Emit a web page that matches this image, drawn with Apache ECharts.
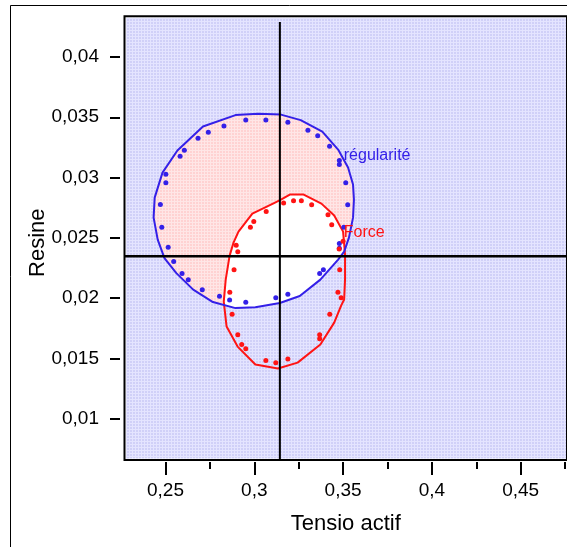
<!DOCTYPE html>
<html><head><meta charset="utf-8">
<script src="https://cdn.jsdelivr.net/npm/echarts@6/dist/echarts.min.js"></script>
<style>html,body{margin:0;padding:0;background:#fff}#c{width:567px;height:547px}</style>
</head><body><div id="c"></div>
<script>
// ---- data ----
const xTicks = [0.25, 0.3, 0.35, 0.4, 0.45];
const xMinorTicks = [0.275, 0.325, 0.375, 0.425, 0.475];
const yTicks = [0.01, 0.015, 0.02, 0.025, 0.03, 0.035, 0.04];
const xRange = [0.2269, 0.4761];
const yRange = [0.00659, 0.043369];
const refX = 0.3144;
const refY = 0.02347;
const refTopY = 0.0429;
const blueCurve = [
  [0.2894,0.03518],[0.3022,0.03530],[0.3150,0.03522],[0.3261,0.03476],[0.3383,0.03381],
  [0.3472,0.03232],[0.3528,0.03083],[0.3556,0.02942],[0.3561,0.02817],[0.3556,0.02668],
  [0.3533,0.02502],[0.3506,0.02386],[0.3472,0.02320],[0.3372,0.02154],[0.3256,0.02018],
  [0.3144,0.01960],[0.3006,0.01926],[0.2894,0.01918],[0.2767,0.01968],[0.2656,0.02071],
  [0.2561,0.02208],[0.2494,0.02333],[0.2456,0.02486],[0.2433,0.02668],[0.2439,0.02834],
  [0.2483,0.03041],[0.2567,0.03224],[0.2711,0.03423]
];
const redCurve = [
  [0.3150,0.02817],[0.3200,0.02859],[0.3278,0.02859],[0.3378,0.02784],[0.3450,0.02685],
  [0.3500,0.02552],[0.3511,0.02362],[0.3511,0.02154],[0.3506,0.01989],[0.3489,0.01939],
  [0.3450,0.01798],[0.3372,0.01616],[0.3244,0.01466],[0.3133,0.01417],[0.3006,0.01450],
  [0.2906,0.01599],[0.2844,0.01765],[0.2828,0.01972],[0.2839,0.02154],[0.2861,0.02353],
  [0.2883,0.02461],[0.2911,0.02552],[0.2989,0.02701],[0.3114,0.02790]
];
const blueDots = [
  [0.2502,0.03027],[0.2502,0.02958],[0.2582,0.03176],[0.2606,0.03226],[0.2683,0.03326],
  [0.2741,0.03375],[0.2829,0.03428],[0.2952,0.03478],[0.3065,0.03478],[0.3189,0.03458],
  [0.3302,0.03392],[0.3357,0.03346],[0.3424,0.03259],[0.3479,0.03141],[0.3479,0.03108],
  [0.3515,0.02958],[0.3526,0.02774],[0.3504,0.02588],[0.3479,0.02453],[0.3479,0.02414],
  [0.3389,0.02235],[0.3368,0.02204],[0.3189,0.02033],[0.3121,0.02003],[0.2952,0.01966],
  [0.2861,0.01986],[0.2804,0.02016],[0.2707,0.02071],[0.2628,0.02154],[0.2593,0.02204],
  [0.2546,0.02304],[0.2515,0.02422],[0.2479,0.02588],[0.2471,0.02776]
];
const redDots = [
  [0.3165,0.02790],[0.3221,0.02809],[0.3265,0.02809],[0.3323,0.02774],[0.3415,0.02691],
  [0.3436,0.02608],[0.3500,0.02472],[0.3478,0.02407],[0.3481,0.02237],[0.3471,0.02049],
  [0.3489,0.02003],[0.3425,0.01867],[0.3368,0.01698],[0.3368,0.01665],[0.3189,0.01497],
  [0.3121,0.01466],[0.3065,0.01483],[0.2952,0.01582],[0.2929,0.01616],[0.2907,0.01698],
  [0.2875,0.01867],[0.2862,0.02049],[0.2886,0.02237],[0.2907,0.02386],[0.2898,0.02439],
  [0.2978,0.02588],[0.2997,0.02635],[0.3067,0.02718]
];
const curveNames = ['régularité', 'Force'];
const curveNamePos = [[0.3504, 0.03184], [0.3504, 0.02546]];

// ---- styles ----
const BLUE = '#3420e8';
const RED = '#ff1414';
const FONT = 'Liberation Sans, Arial, sans-serif';

function makePattern(base, light) {
  const c = document.createElement('canvas');
  c.width = 3; c.height = 3;
  const g = c.getContext('2d');
  g.fillStyle = base; g.fillRect(0, 0, 3, 3);
  g.fillStyle = light; g.fillRect(0, 0, 3, 1); g.fillRect(0, 0, 1, 3);
  return { image: c, repeat: 'repeat' };
}
const lavender = makePattern('#d0d0f8', '#e4e4ff');
const pink = makePattern('#ffd2d2', '#ffe6e6');

function clipPoly(subject, clip) {
  let area = 0;
  for (let i = 0; i < clip.length; i++) {
    const a = clip[i], b = clip[(i + 1) % clip.length];
    area += a[0] * b[1] - b[0] * a[1];
  }
  const s = area > 0 ? 1 : -1;
  const inside = (p, a, b) => s * ((b[0] - a[0]) * (p[1] - a[1]) - (b[1] - a[1]) * (p[0] - a[0])) >= 0;
  const inter = (p, q, a, b) => {
    const x1 = p[0], y1 = p[1], x2 = q[0], y2 = q[1], x3 = a[0], y3 = a[1], x4 = b[0], y4 = b[1];
    const d = (x1 - x2) * (y3 - y4) - (y1 - y2) * (x3 - x4);
    if (Math.abs(d) < 1e-12) return p;
    const t = ((x1 - x3) * (y3 - y4) - (y1 - y3) * (x3 - x4)) / d;
    return [x1 + t * (x2 - x1), y1 + t * (y2 - y1)];
  };
  let out = subject;
  for (let i = 0; i < clip.length; i++) {
    const a = clip[i], b = clip[(i + 1) % clip.length];
    const inp = out; out = [];
    for (let j = 0; j < inp.length; j++) {
      const p = inp[j], q = inp[(j + 1) % inp.length];
      const pin = inside(p, a, b), qin = inside(q, a, b);
      if (pin) { out.push(p); if (!qin) out.push(inter(p, q, a, b)); }
      else if (qin) out.push(inter(p, q, a, b));
    }
    if (!out.length) break;
  }
  return out;
}

const fmt = v => String(+v.toFixed(4)).replace('.', ',');

const chart = echarts.init(document.getElementById('c'), null, { renderer: 'canvas' });
chart.setOption({
  animation: false,
  backgroundColor: '#fff',
  graphic: [{
    type: 'rect', silent: true, z: -10,
    shape: { x: 10.5, y: 5.5, width: 800, height: 800 },
    style: { fill: 'none', stroke: '#000', lineWidth: 1 }
  }],
  grid: { left: 124.5, top: 16.3, bottom: 87, right: -6, show: false },
  xAxis: [{
    type: 'value', min: xRange[0], max: xRange[1], offset: 2,
    axisLine: { show: false }, splitLine: { show: false },
    axisTick: { show: true, length: 13, customValues: xTicks, lineStyle: { color: '#000', width: 2 } },
    axisLabel: { show: true, customValues: xTicks, formatter: fmt, margin: 19, color: '#000', fontSize: 19, fontFamily: FONT },
    name: 'Tensio actif', nameLocation: 'middle', nameGap: 51, nameMoveOverlap: false,
    nameTextStyle: { color: '#000', fontSize: 22, fontFamily: FONT }
  }, {
    type: 'value', min: xRange[0], max: xRange[1], offset: 2, position: 'bottom',
    axisLine: { show: false }, splitLine: { show: false },
    axisTick: { show: true, length: 7, customValues: xMinorTicks, lineStyle: { color: '#000', width: 2 } },
    axisLabel: { show: false }
  }],
  yAxis: {
    type: 'value', min: yRange[0], max: yRange[1], offset: 4.5,
    axisLine: { show: false }, splitLine: { show: false },
    axisTick: { show: true, length: 10, customValues: yTicks, lineStyle: { color: '#000', width: 2 } },
    axisLabel: { show: true, customValues: yTicks, formatter: fmt, margin: 21, color: '#000', fontSize: 19, fontFamily: FONT },
    name: 'Resine', nameLocation: 'middle', nameGap: 71, nameMoveOverlap: false,
    nameTextStyle: { color: '#000', fontSize: 22, fontFamily: FONT, padding: [0, 0, 0, -9] }
  },
  series: [
    {
      type: 'custom', z: 1, silent: true, clip: true, data: [[refX, refY]],
      renderItem: (params, api) => {
        const tl = api.coord([xRange[0], yRange[1]]);
        const br = api.coord([xRange[1], yRange[0]]);
        const b = blueCurve.map(p => api.coord(p));
        const r = redCurve.map(p => api.coord(p));
        const both = clipPoly(r, b);
        return {
          type: 'group', children: [
            { type: 'rect', shape: { x: tl[0] + 1.5, y: tl[1] + 1.5, width: br[0] - tl[0], height: br[1] - tl[1] - 3 }, style: { fill: lavender } },
            { type: 'polygon', shape: { points: b }, style: { fill: pink } },
            { type: 'polygon', shape: { points: both }, style: { fill: '#fff' } },
            { type: 'polygon', shape: { points: r }, style: { fill: 'none', stroke: RED, lineWidth: 2, lineJoin: 'round' } },
            { type: 'polygon', shape: { points: b }, style: { fill: 'none', stroke: BLUE, lineWidth: 2, lineJoin: 'round' } }
          ]
        };
      }
    },
    {
      type: 'line', z: 3, silent: true, symbol: 'none', clip: false,
      data: [[refX, refTopY], [refX, yRange[0]]],
      lineStyle: { color: '#000', width: 2 }
    },
    {
      type: 'line', z: 3, silent: true, symbol: 'none', clip: false,
      data: [[xRange[0], refY], [xRange[1], refY]],
      lineStyle: { color: '#000', width: 2.5 }
    },
    {
      type: 'scatter', z: 4, silent: true, symbol: 'circle', symbolSize: 5,
      data: blueDots, itemStyle: { color: BLUE, opacity: 1 }
    },
    {
      type: 'scatter', z: 4, silent: true, symbol: 'circle', symbolSize: 5,
      data: redDots, itemStyle: { color: RED, opacity: 1 }
    },
    {
      type: 'custom', z: 5, silent: true, clip: false,
      data: curveNamePos.map((p, i) => [p[0], p[1], i]),
      renderItem: (params, api) => {
        const p = api.coord([api.value(0), api.value(1)]);
        const i = api.value(2);
        return {
          type: 'text', x: p[0], y: p[1],
          style: { text: curveNames[i], fill: i === 0 ? BLUE : RED, font: '16px ' + FONT, textAlign: 'left', textVerticalAlign: 'middle' }
        };
      }
    },
    {
      type: 'custom', z: 6, silent: true, clip: false, data: [[refX, refY]],
      renderItem: (params, api) => {
        const tl = api.coord([xRange[0], yRange[1]]);
        const br = api.coord([xRange[1], yRange[0]]);
        return { type: 'rect', shape: { x: tl[0], y: tl[1], width: br[0] - tl[0], height: br[1] - tl[1] }, style: { fill: 'none', stroke: '#000', lineWidth: 2 } };
      }
    }
  ]
});
</script>
</body></html>
